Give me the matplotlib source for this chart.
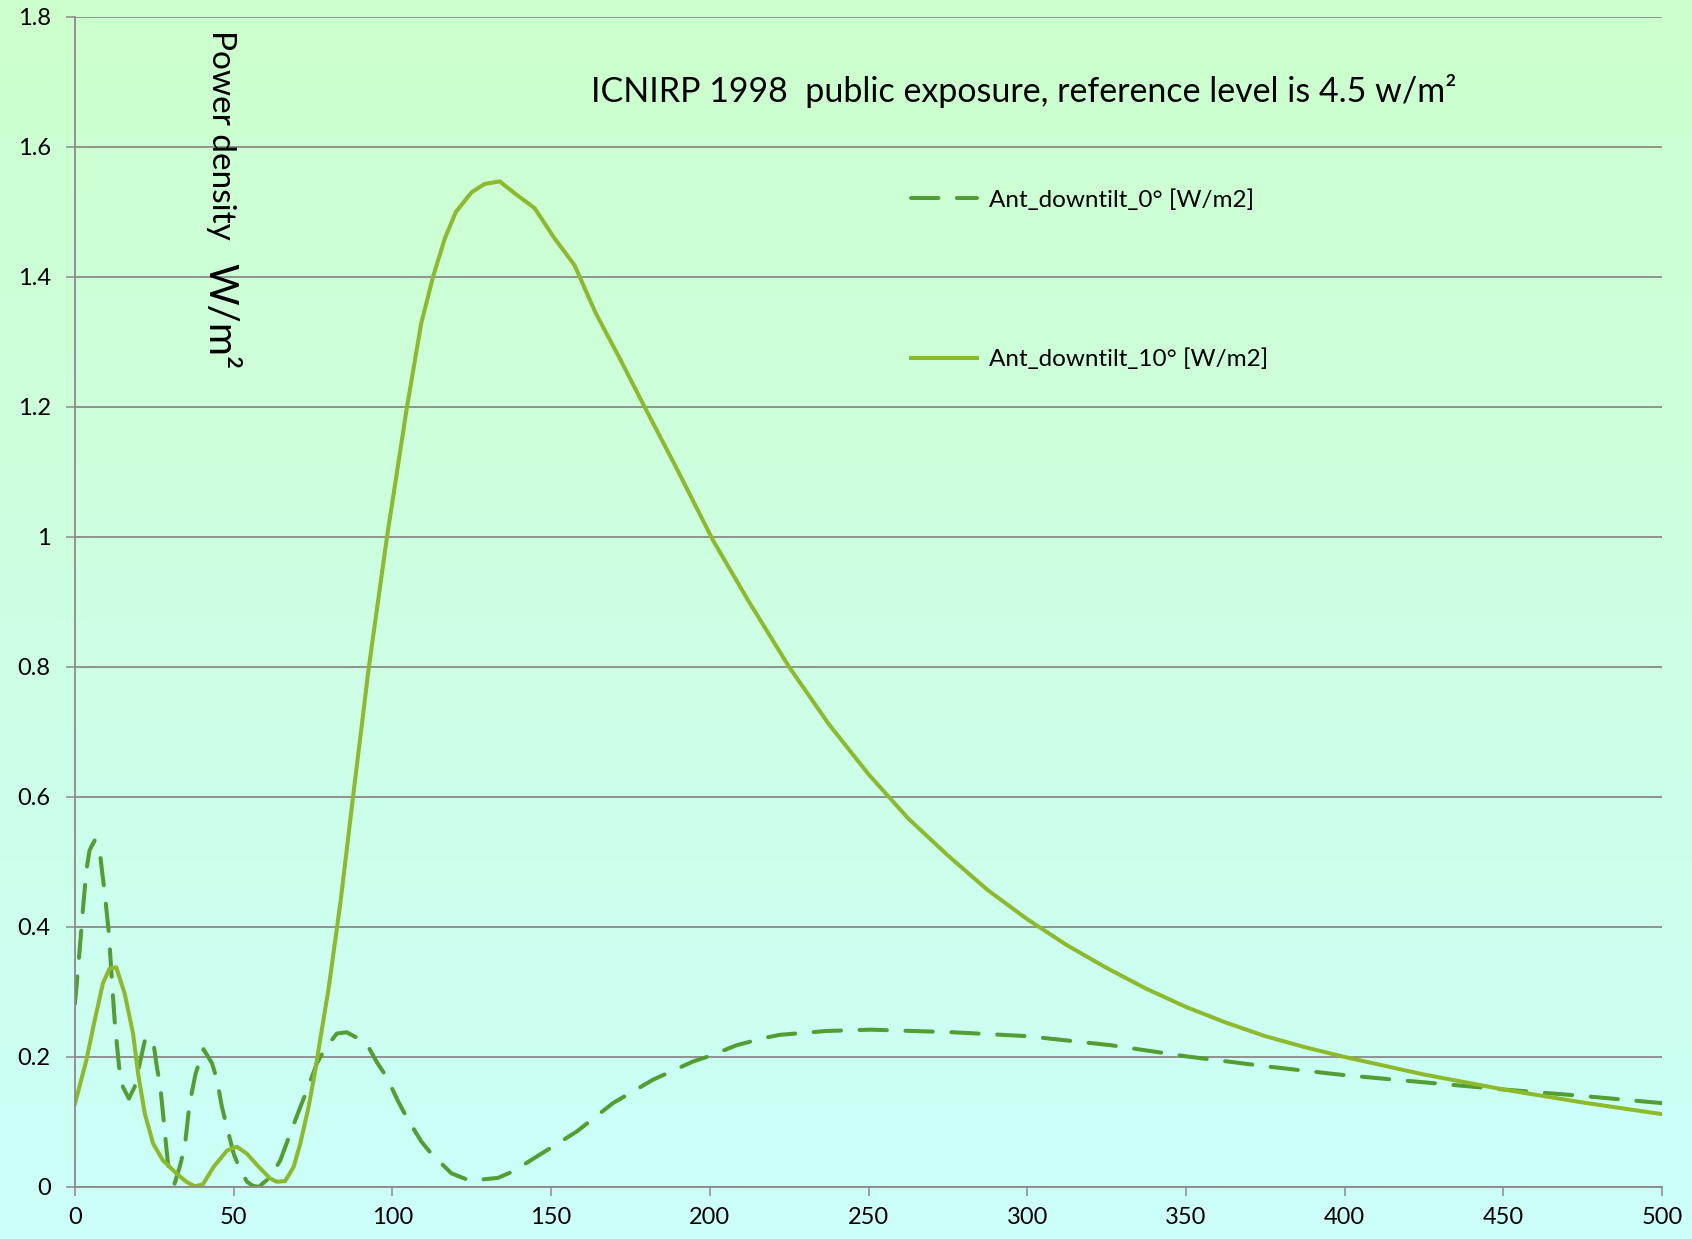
import numpy as np
import matplotlib
matplotlib.use("Agg")
import matplotlib.pyplot as plt
from matplotlib.colors import LinearSegmentedColormap
from matplotlib.ticker import FuncFormatter

# distance [m] and power density [W/m2]
dist_0 = [0, 1.3, 2.5, 3.6, 4.6, 6.2, 8, 9.4, 10.7, 11.5,
          12.5, 13.9, 15.1, 17, 18.8, 20.4, 22, 23.3, 24.6, 25.8,
          26.9, 28.3, 29.3, 30.4, 31.4, 33, 34.6, 36.1, 38, 40.5,
          42, 43.2, 44.8, 46.3, 47.9, 50, 52.1, 54.2, 56, 57.9,
          61.5, 64.7, 67.8, 71, 73.1, 76.2, 78.8, 82.5, 85.6, 89.8,
          92.5, 95.1, 98.2, 101.9, 104.4, 109.1, 112.3, 118.6, 124.4, 133.3,
          138, 145.9, 158, 169.5, 182.1, 194.7, 200, 208.4, 217, 222,
          236.8, 250.8, 276.7, 300, 326.5, 350, 376.3, 400, 425, 450,
          475, 500]
pd_0 = [0.282, 0.354, 0.426, 0.487, 0.518, 0.533, 0.508, 0.451, 0.39, 0.328,
        0.256, 0.185, 0.154, 0.136, 0.154, 0.19, 0.225, 0.23, 0.226, 0.185,
        0.154, 0.085, 0.036, 0.013, 0.005, 0.031, 0.062, 0.128, 0.174, 0.212,
        0.2, 0.19, 0.164, 0.123, 0.092, 0.051, 0.026, 0.008, 0.002, 0.0,
        0.015, 0.041, 0.082, 0.123, 0.149, 0.19, 0.213, 0.236, 0.238, 0.227,
        0.215, 0.192, 0.169, 0.131, 0.108, 0.07, 0.051, 0.021, 0.0097, 0.014,
        0.024, 0.048, 0.085, 0.129, 0.165, 0.193, 0.2015, 0.218, 0.229, 0.234,
        0.24, 0.242, 0.238, 0.232, 0.218, 0.201, 0.185, 0.172, 0.161, 0.15,
        0.14, 0.129]

dist_10 = [0, 3.6, 6.2, 8.8, 10.9, 13, 15.7, 18.3, 19.9, 22,
           24.6, 27.7, 31.9, 35.1, 37.7, 40.3, 43.7, 47.9, 51, 54.2,
           57.9, 61.5, 63.6, 66.2, 68.9, 71, 73.6, 75.7, 77.3, 79.9,
           83.7, 87.6, 92.6, 98.3, 104.6, 109.1, 112.8, 116.5, 120, 124.9,
           129, 133.8, 139, 144.8, 151, 157.4, 164, 171.6, 180, 189.5,
           201, 212, 225, 237.5, 250, 262.5, 275, 287.5, 300, 312.5,
           325, 337.5, 350, 362.5, 375, 387.5, 400, 425, 450, 475,
           500]
pd_10 = [0.128, 0.195, 0.256, 0.313, 0.336, 0.338, 0.297, 0.236, 0.174, 0.113,
         0.067, 0.041, 0.021, 0.008, 0.001, 0.004, 0.031, 0.056, 0.062, 0.051,
         0.031, 0.013, 0.008, 0.009, 0.031, 0.067, 0.123, 0.179, 0.228, 0.305,
         0.44, 0.6, 0.8, 1.0, 1.2, 1.329, 1.4, 1.459, 1.5, 1.53,
         1.543, 1.547, 1.527, 1.506, 1.46, 1.418, 1.345, 1.275, 1.195, 1.106,
         0.995, 0.903, 0.80, 0.712, 0.635, 0.567, 0.51, 0.457, 0.412, 0.372,
         0.337, 0.305, 0.277, 0.253, 0.232, 0.215, 0.2, 0.173, 0.15, 0.13,
         0.112]

x_ticks = [0, 50, 100, 150, 200, 250, 300, 350, 400, 450, 500]
y_ticks = [0, 0.2, 0.4, 0.6, 0.8, 1.0, 1.2, 1.4, 1.6, 1.8]

label_0 = "Ant_downtilt_0° [W/m2]"
label_10 = "Ant_downtilt_10° [W/m2]"
note = "ICNIRP 1998  public exposure, reference level is 4.5 w/m\u00b2"

plt.rcParams["font.family"] = ["Lato", "DejaVu Sans"]

fig = plt.figure(figsize=(16.92, 12.39), dpi=100)

# background gradient, green at the top to cyan at the bottom
bg = fig.add_axes([0, 0, 1, 1], zorder=-10)
grad = np.linspace(0, 1, 256).reshape(-1, 1)
cmap = LinearSegmentedColormap.from_list("bg", ["#ccffcc", "#ccfffa"])
bg.imshow(grad, aspect="auto", cmap=cmap, extent=[0, 1, 0, 1])
bg.set_axis_off()

ax = fig.add_axes([0.0443, 0.042, 0.938, 0.9443])
ax.set_facecolor("none")

ax.plot(dist_0, pd_0, color="#529e32", lw=2.9, dashes=(6.8, 4.6),
        dash_capstyle="round", solid_capstyle="round", label=label_0)
ax.plot(dist_10, pd_10, color="#8dba2b", lw=2.9, label=label_10)

ax.set_xlim(0, 500)
ax.set_ylim(0, 1.8)
ax.set_xticks(x_ticks)
ax.set_yticks(y_ticks)
ax.yaxis.set_major_formatter(FuncFormatter(lambda v, p: f"{v:g}"))
ax.grid(axis="y", color="#8a8a8a", lw=1.3)
ax.set_axisbelow(True)
for s in ["top", "right"]:
    ax.spines[s].set_visible(False)
for s in ["left", "bottom"]:
    ax.spines[s].set_color("#8a8a8a")
    ax.spines[s].set_linewidth(1.3)
ax.tick_params(axis="both", colors="#8a8a8a", labelcolor="black",
               labelsize=17, length=6.5, width=1.1)
ax.tick_params(axis="y", pad=11)
ax.tick_params(axis="x", pad=8)

ax.text(162.5, 1.669, note, fontsize=24.5, ha="left", va="baseline")

# rotated y label sits inside the plot area
ax.text(0.092, 0.989, "Power density", transform=ax.transAxes, rotation=270,
        fontsize=24, ha="center", va="top")
ax.text(0.091, 0.79, "W/m\u00b2", transform=ax.transAxes, rotation=270,
        fontsize=29, ha="center", va="top")

ax.legend(loc="upper left", bbox_to_anchor=(0.527, 0.853), frameon=False,
          fontsize=17.5, handlelength=2.7, handletextpad=0.5,
          labelspacing=5.68, borderpad=0, borderaxespad=0)

fig.savefig("out.png", dpi=100)
